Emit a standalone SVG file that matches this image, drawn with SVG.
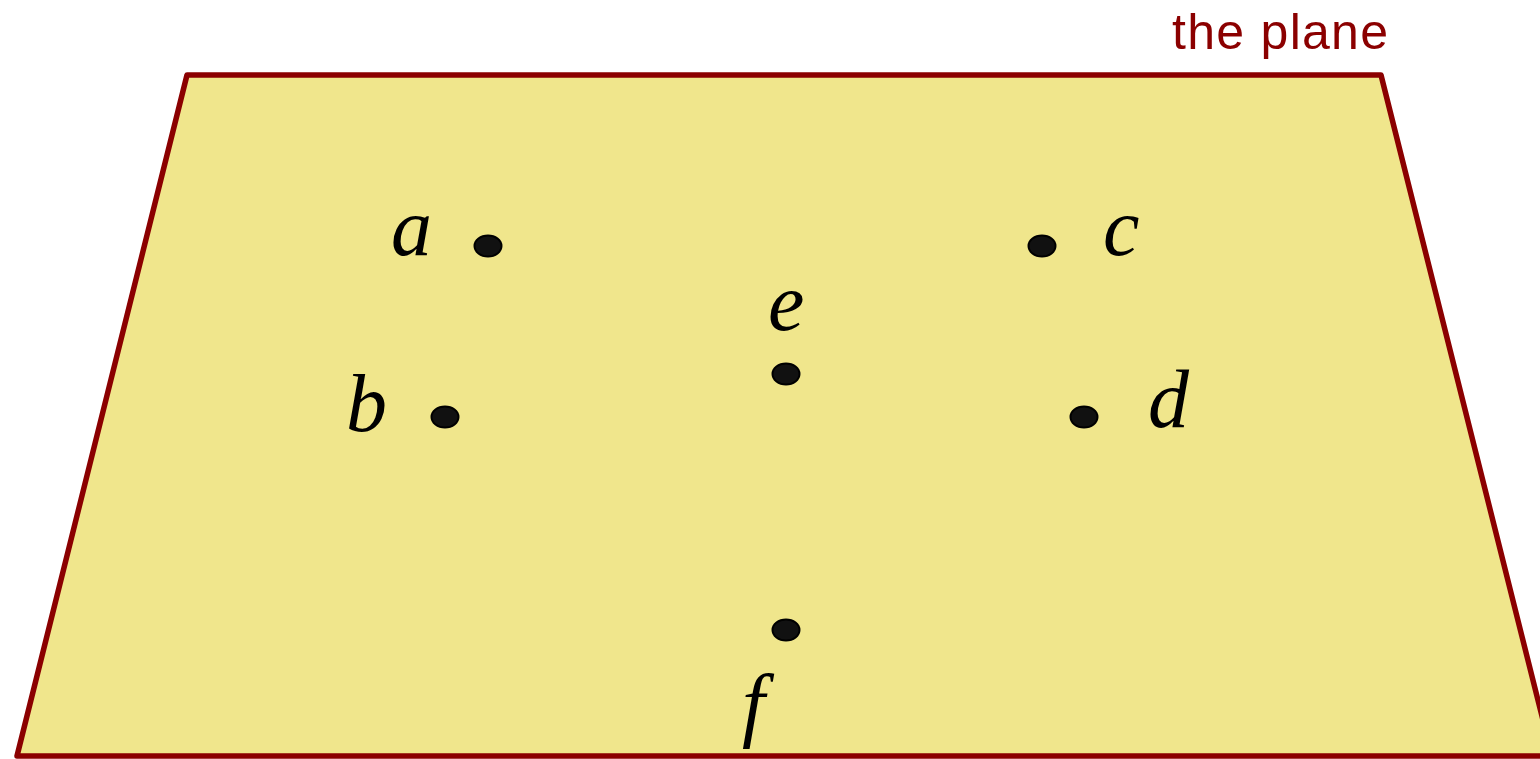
<svg xmlns="http://www.w3.org/2000/svg" width="1540" height="759" viewBox="0 0 1540 759">
<style>
.lbl{font-family:"Liberation Serif","DejaVu Serif",serif;font-style:italic;font-size:82px;fill:#000}
.dot{fill:#111;stroke:#000;stroke-width:2}
.title{font-family:"Liberation Sans","DejaVu Sans",sans-serif;font-size:50px;fill:#8B0000}
</style>
<rect width="1540" height="759" fill="#fff"/>
<g id="plane">
<polygon points="187,75 1381,75 1552,756 17,756" fill="#F0E68C" stroke="#8B0000" stroke-width="5.5" stroke-linejoin="round"/>
<text class="title" x="1172" y="49" textLength="216" lengthAdjust="spacing">the plane</text>
</g>
<g id="connectors"></g>
<g id="node-a"><ellipse class="dot" cx="488" cy="246" rx="13.5" ry="10.5"/><text class="lbl" x="391" y="255">a</text></g>
<g id="node-c"><ellipse class="dot" cx="1042" cy="246" rx="13.5" ry="10.5"/><text class="lbl" x="1103" y="255">c</text></g>
<g id="node-e"><ellipse class="dot" cx="786" cy="374" rx="13.5" ry="10.5"/><text class="lbl" x="768" y="330">e</text></g>
<g id="node-b"><ellipse class="dot" cx="445" cy="417" rx="13.5" ry="10.5"/><text class="lbl" x="346" y="431">b</text></g>
<g id="node-d"><ellipse class="dot" cx="1084" cy="417" rx="13.5" ry="10.5"/><text class="lbl" x="1148" y="427">d</text></g>
<g id="node-f"><ellipse class="dot" cx="786" cy="630" rx="13.5" ry="10.5"/><text class="lbl" x="742" y="731">f</text></g>
</svg>
